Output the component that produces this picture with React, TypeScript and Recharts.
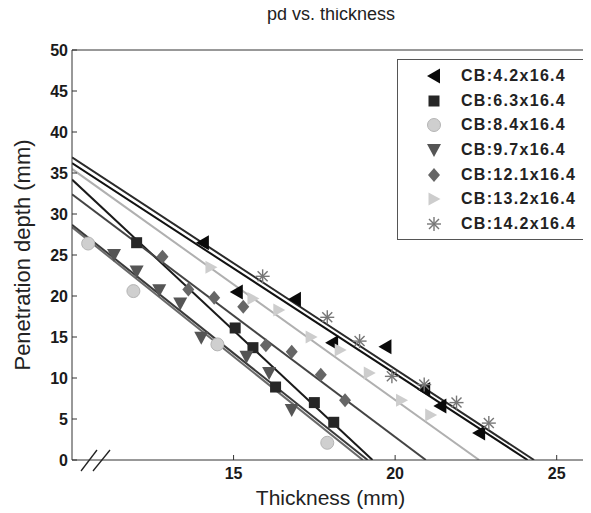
import { ComposedChart, Line, Scatter, XAxis, YAxis, Legend, Label } from 'recharts'

const NAMES = ['CB:4.2x16.4', 'CB:6.3x16.4', 'CB:8.4x16.4', 'CB:9.7x16.4', 'CB:12.1x16.4', 'CB:13.2x16.4', 'CB:14.2x16.4']
const KINDS = ['left', 'square', 'circle', 'down', 'diamond', 'right', 'star']

// measured points (thickness, penetration depth), one pair of arrays per series
const x42 = [14.05, 15.1, 16.9, 18.05, 19.7, 20.9, 21.4, 22.6]
const y42 = [26.5, 20.5, 19.6, 14.3, 13.8, 8.6, 6.6, 3.3]
const x63 = [12.0, 15.05, 15.6, 16.3, 17.5, 18.1]
const y63 = [26.5, 16.1, 13.7, 8.9, 7.0, 4.6]
const x84 = [10.5, 11.9, 14.5, 17.9]
const y84 = [26.4, 20.6, 14.1, 2.1]
const x97 = [11.3, 12.0, 12.7, 13.35, 14.0, 15.4, 16.1, 16.8]
const y97 = [25.0, 23.0, 20.7, 19.1, 14.9, 12.6, 10.6, 6.1]
const x121 = [12.8, 13.6, 14.4, 15.3, 16.0, 16.8, 17.7, 18.45]
const y121 = [24.8, 20.8, 19.8, 18.7, 14.0, 13.2, 10.4, 7.3]
const x132 = [14.3, 15.6, 16.4, 17.4, 18.3, 19.2, 20.2, 21.1]
const y132 = [23.5, 19.7, 18.3, 15.0, 13.4, 10.6, 7.3, 5.5]
const x142 = [15.9, 17.9, 18.9, 19.9, 20.9, 21.9, 22.9]
const y142 = [22.4, 17.4, 14.5, 10.2, 9.2, 7.0, 4.5]

const POINTS_X = [x42, x63, x84, x97, x121, x132, x142]
const POINTS_Y = [y42, y63, y84, y97, y121, y132, y142]

// linear fits: depth at the left edge (10 mm) and thickness where depth hits 0
const fitStart = [36.2, 34.2, 28.4, 28.7, 32.4, 35.5, 36.9]
const fitZero = [24.1, 19.3, 19.0, 19.15, 20.95, 22.6, 24.3]

const xTicks = [15, 20, 25]
const yTicks = [0, 5, 10, 15, 20, 25, 30, 35, 40, 45, 50]

// grey levels of the old matlab figure
const lineColors = ['#111', '#1a1a1a', '#6a6a6a', '#3a3a3a', '#444', '#b0b0b0', '#2a2a2a']
const markerFill = ['#0a0a0a', '#262626', '#cfcfcf', '#555', '#666', '#cdcdcd', '#777']

const font = '"Liberation Sans", Arial, sans-serif'

function Marker({ kind, cx, cy, fill }: { kind: string; cx: number; cy: number; fill: string }) {
  switch (kind) {
    case 'left':
      return <polygon points={`${cx - 7},${cy} ${cx + 6},${cy - 7.5} ${cx + 6},${cy + 7.5}`} fill={fill} />
    case 'square':
      return <rect x={cx - 5.5} y={cy - 5.5} width={11} height={11} fill={fill} />
    case 'circle':
      return <circle cx={cx} cy={cy} r={6.5} fill={fill} stroke="#b5b5b5" strokeWidth={1} />
    case 'down':
      return <polygon points={`${cx - 7},${cy - 6} ${cx + 7},${cy - 6} ${cx},${cy + 7}`} fill={fill} />
    case 'diamond':
      return <polygon points={`${cx},${cy - 7} ${cx + 6},${cy} ${cx},${cy + 7} ${cx - 6},${cy}`} fill={fill} />
    case 'right':
      return <polygon points={`${cx + 6.5},${cy} ${cx - 5.5},${cy - 6.5} ${cx - 5.5},${cy + 6.5}`} fill={fill} />
    default:
      return (
        <g stroke={fill} strokeWidth={1.4}>
          <line x1={cx - 7} y1={cy} x2={cx + 7} y2={cy} />
          <line x1={cx} y1={cy - 7} x2={cx} y2={cy + 7} />
          <line x1={cx - 5} y1={cy - 5} x2={cx + 5} y2={cy + 5} />
          <line x1={cx - 5} y1={cy + 5} x2={cx + 5} y2={cy - 5} />
        </g>
      )
  }
}

function LegendBox() {
  return (
    <div
      style={{
        width: 188,
        height: 181,
        border: '1.5px solid #555',
        background: '#fff',
        boxSizing: 'border-box',
        paddingTop: 4,
      }}
    >
      {NAMES.map((name, i) => (
        <div key={name} style={{ display: 'flex', alignItems: 'center', height: 24.6 }}>
          <svg width={60} height={20} style={{ marginLeft: 3 }}>
            <Marker kind={KINDS[i]} cx={33} cy={10} fill={markerFill[i]} />
          </svg>
          <span style={{ fontFamily: font, fontSize: 16, fontWeight: 'bold', color: '#222', letterSpacing: 1.3 }}>
            {name}
          </span>
        </div>
      ))}
    </div>
  )
}

export default function App() {
  const scatterData = NAMES.map((_, s) => POINTS_X[s].map((x, i) => ({ x, y: POINTS_Y[s][i] })))
  const fitData = NAMES.map((_, s) => [
    { x: 10, y: fitStart[s] },
    { x: fitZero[s], y: 0 },
  ])

  const tickStyle = { fontFamily: font, fontSize: 16, fontWeight: 'bold', fill: '#1a1a1a' }

  return (
    <div style={{ position: 'relative', width: 591, height: 513, marginLeft: -8, marginTop: -8, background: '#fff' }}>
      <div
        style={{
          position: 'absolute',
          left: 0,
          width: 662,
          top: 4,
          textAlign: 'center',
          fontFamily: font,
          fontSize: 18,
          color: '#222',
        }}
      >
        pd vs. thickness
      </div>
      <ComposedChart width={591} height={513} margin={{ top: 49, right: 1, bottom: 5, left: 12 }}>
        <XAxis
          dataKey="x"
          type="number"
          domain={[10, 26]}
          ticks={xTicks}
          allowDataOverflow
          height={48}
          tickSize={-5}
          tickMargin={13}
          tick={tickStyle}
          stroke="#333"
        >
          <Label
            content={({ viewBox }: any) => (
              <text
                x={viewBox.x + viewBox.width / 2}
                y={497}
                textAnchor="middle"
                dominantBaseline="central"
                fontFamily={font}
                fontSize={21}
                fill="#222"
              >
                Thickness (mm)
              </text>
            )}
          />
        </XAxis>
        <XAxis
          xAxisId="top"
          orientation="top"
          type="number"
          domain={[10, 26]}
          ticks={xTicks}
          height={1}
          tickSize={-5}
          tickFormatter={() => ''}
          stroke="#333"
        />
        <YAxis
          dataKey="y"
          type="number"
          domain={[0, 50]}
          ticks={yTicks}
          allowDataOverflow
          width={60}
          tickSize={-5}
          tickMargin={9}
          tick={tickStyle}
          stroke="#333"
        >
          <Label
            content={({ viewBox }: any) => {
              const cx = 22
              const cy = viewBox.y + viewBox.height / 2
              return (
                <text
                  x={cx}
                  y={cy}
                  transform={`rotate(-90, ${cx}, ${cy})`}
                  textAnchor="middle"
                  dominantBaseline="central"
                  fontFamily={font}
                  fontSize={22}
                  fill="#222"
                >
                  Penetration depth (mm)
                </text>
              )
            }}
          />
        </YAxis>
        <YAxis
          yAxisId="right"
          orientation="right"
          type="number"
          domain={[0, 50]}
          ticks={yTicks}
          width={1}
          tickSize={-5}
          tickFormatter={() => ''}
          stroke="#333"
        />
        {NAMES.map((name, s) => (
          <Line
            key={`fit-${name}`}
            data={fitData[s]}
            dataKey="y"
            stroke={lineColors[s]}
            strokeWidth={2}
            dot={false}
            legendType="none"
            isAnimationActive={false}
          />
        ))}
        {NAMES.map((name, s) => (
          <Scatter
            key={name}
            name={name}
            data={scatterData[s]}
            dataKey="y"
            isAnimationActive={false}
            shape={(p: any) => <Marker kind={KINDS[s]} cx={p.cx} cy={p.cy} fill={markerFill[s]} />}
          />
        ))}
        <Legend
          layout="vertical"
          align="center"
          verticalAlign="middle"
          content={() => <LegendBox />}
          wrapperStyle={{ left: 397, top: 59, width: 188 }}
        />
      </ComposedChart>
      <svg width={591} height={513} style={{ position: 'absolute', left: 0, top: 0, pointerEvents: 'none' }}>
        <g stroke="#222" strokeWidth={1.3}>
          <line x1={81} y1={471} x2={97} y2={450} />
          <line x1={93} y1={471} x2={110} y2={450} />
        </g>
      </svg>
    </div>
  )
}
